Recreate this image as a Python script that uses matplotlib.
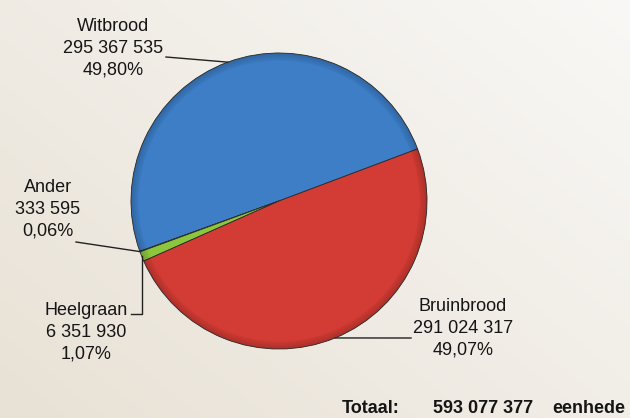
import numpy as np
import matplotlib.pyplot as plt
from matplotlib.colors import to_rgb

# --- data ---
labels = ['Witbrood', 'Ander', 'Heelgraan', 'Bruinbrood']
counts = [295367535, 333595, 6351930, 291024317]
count_text = ['295 367 535', '333 595', '6 351 930', '291 024 317']
pct_text = ['49,80%', '0,06%', '1,07%', '49,07%']
colors = ['#3d7ec7', '#8f5fb0', '#8cc63c', '#d23c34']
total_text = '593 077 377'
unit_text = 'eenhede'

W, H = 630, 418
FONT = ['Liberation Sans Narrow', 'Liberation Sans', 'DejaVu Sans']

fig = plt.figure(figsize=(W / 100, H / 100), dpi=100)
ax = fig.add_axes([0, 0, 1, 1])

# light beige background (stands in for the wheat photo)
yy, xx = np.mgrid[0:1:200j, 0:1:300j]
t = np.clip(0.55 * (1 - xx) + 0.45 * yy, 0, 1)  # yy=1 is bottom row (origin upper)
light = np.array(to_rgb('#f9f8f6'))
dark = np.array(to_rgb('#e8e1d5'))
bg = light + (dark - light) * t[..., None]
ax.imshow(bg, extent=[0, W, 0, H], origin='upper', aspect='auto', zorder=0)

cx, cy, R = 279, H - 201, 148
wedges, _ = ax.pie(counts, colors=colors, startangle=20.6, counterclock=True,
                   center=(cx, cy), radius=R, frame=True,
                   wedgeprops=dict(edgecolor='#2a2a2a', linewidth=0.6))
ax.set_xlim(0, W)
ax.set_ylim(0, H)
ax.set_aspect('equal')
ax.axis('off')
for w in wedges:
    w.set_zorder(2)

# darker rim for a bevelled look
for i, r in enumerate(np.linspace(R - 0.5, R - 7, 8)):
    ax.add_patch(plt.Circle((cx, cy), r, fill=False, lw=1.2,
                            ec='black', alpha=0.10 - i * 0.011, zorder=3))


def edge_point(w):
    a = np.deg2rad((w.theta1 + w.theta2) / 2)
    return cx + R * np.cos(a), cy + R * np.sin(a)


txt = dict(fontsize=13, family=FONT, ha='center', va='center',
           linespacing=1.38, color='#151515', zorder=5)

# label blocks: (centre x, middle-line y) in pixels from top
blocks = {'Witbrood': (113, 48.5), 'Ander': (48, 209.5),
          'Heelgraan': (86, 332.5), 'Bruinbrood': (463, 328.5)}
for lab, cnt, pct in zip(labels, count_text, pct_text):
    bx, by = blocks[lab]
    ax.text(bx, H - by, f'{lab}\n{cnt}\n{pct}', **txt)

lk = dict(color='#222222', lw=1.0, zorder=4)
# leader lines
ex, ey = edge_point(wedges[0])
ax.plot([166, ex], [H - 57, ey], **lk)
ex, ey = edge_point(wedges[1])
ax.plot([76, ex], [H - 242, ey], **lk)
ex, ey = edge_point(wedges[2])
ax.plot([131, ex, ex], [H - 314, H - 314, ey], **lk)
ex, ey = edge_point(wedges[3])
ax.plot([411, ex], [H - 338, ey], **lk)

# total line
tk = dict(fontsize=13, family=FONT, fontweight='bold', va='baseline',
          ha='left', color='#151515', zorder=5)
ax.text(342, H - 413, 'Totaal:', **tk)
ax.text(433, H - 413, total_text, **tk)
ax.text(552, H - 413, unit_text, **tk)

fig.savefig('out.png', dpi=100)
